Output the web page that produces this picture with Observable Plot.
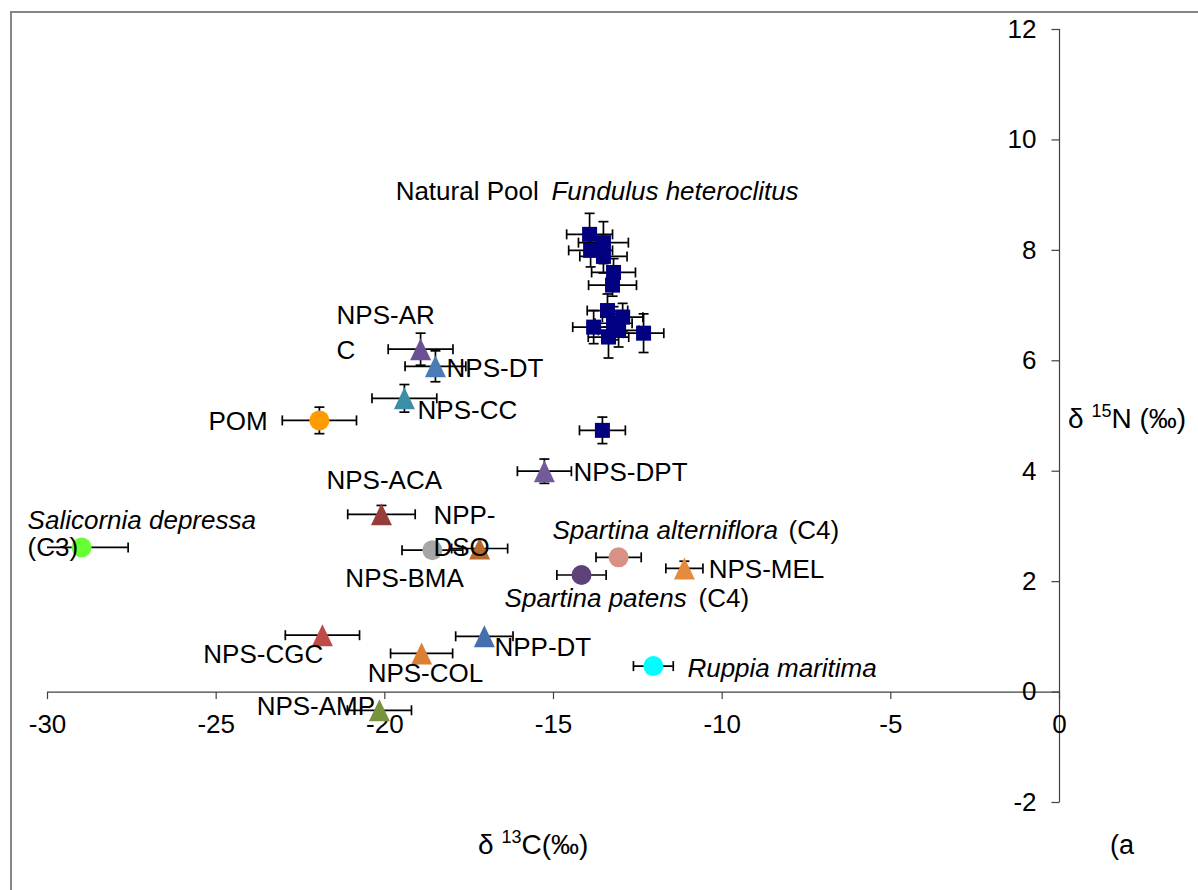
<!DOCTYPE html>
<html><head><meta charset="utf-8">
<script src="https://cdn.jsdelivr.net/npm/d3@7"></script>
<script src="https://cdn.jsdelivr.net/npm/@observablehq/plot@0.6"></script>
<style>
html,body{margin:0;padding:0;background:#fff;}
#wrap{position:relative;width:1198px;height:890px;overflow:hidden;background:#fff;}
#chart{position:absolute;left:0;top:0;}
#border{position:absolute;left:10px;top:11px;width:1400px;height:1000px;border-left:2px solid #868686;border-top:2px solid #868686;pointer-events:none;}
</style></head><body>
<div id="wrap"><div id="chart"></div><div id="border"></div></div>
<script>
// ---- Natural Pool Fundulus heteroclitus (mean ± SD) ----
const fishC13   = [-13.93,-13.52,-13.90,-13.52,-13.22,-13.25,-13.40,-12.95,-13.81,-13.22,-13.07,-13.37,-12.33,-13.55];
const fishN15   = [8.29, 8.14, 8.00, 7.89, 7.60, 7.37, 6.91, 6.79, 6.61, 6.68, 6.55, 6.43, 6.50, 4.74];
const fishC13sd = [0.68, 0.74, 0.65, 0.70, 0.65, 0.71, 0.60, 0.60, 0.62, 0.55, 0.60, 0.60, 0.60, 0.68];
const fishN15sd = [0.38, 0.38, 0.30, 0.30, 0.25, 0.20, 0.30, 0.25, 0.30, 0.30, 0.30, 0.38, 0.35, 0.24];

// ---- Food sources ----
const srcName  = ["NPS-ARC","NPS-DT","NPS-CC","POM","NPS-ACA","NPS-DPT","Salicornia depressa","NPS-BMA","NPP-DSO","Spartina alterniflora","Spartina patens","NPS-MEL","NPP-DT","Ruppia maritima","NPS-CGC","NPS-COL","NPS-AMP"];
const srcC13   = [-18.94,-18.50,-19.42,-21.94,-20.10,-15.27,-28.99,-18.59,-17.19,-13.07,-14.17,-11.12,-17.05,-12.04,-21.85,-18.91,-20.16];
const srcN15   = [6.21, 5.90, 5.32, 4.92, 3.22, 4.00, 2.62, 2.57, 2.60, 2.44, 2.12, 2.24, 1.01, 0.47, 1.03, 0.70, -0.33];
const srcC13sd = [0.96, 0.90, 0.96, 1.10, 1.00, 0.80, 1.38, 0.90, 0.83, 0.67, 0.73, 0.55, 0.85, 0.59, 1.10, 0.92, 0.95];
const srcN15sd = [0.29, 0.28, 0.25, 0.24, 0.16, 0.22, 0, 0, 0, 0, 0, 0.13, 0, 0, 0, 0, 0];
const srcShape = ["triangle","triangle","triangle","circle","triangle","triangle","circle","circle","triangle","circle","circle","triangle","triangle","circle","triangle","triangle","triangle"];
const srcColor = ["#6b5192","#4a7bb7","#3a8fa6","#ff9a00","#983c3a","#735a9b","#66ff33","#a6a6a6","#b86a2c","#d99184","#5c4278","#e58b3e","#4470ad","#00ffff","#bf4b48","#dd7f33","#77933c"];

// ---- Labels ----
const labelText   = ["Natural Pool","Fundulus heteroclitus","NPS-AR","C","NPS-DT","POM","NPS-CC","NPS-ACA","NPS-DPT","Salicornia depressa","(C3)","NPP-","DSO","NPS-BMA","Spartina alterniflora","(C4)","NPS-MEL","Spartina patens","(C4)","NPP-DT","Ruppia maritima","NPS-CGC","NPS-COL","NPS-AMP"];
const labelX      = [-19.68,-15.06,-21.43,-21.43,-18.17,-25.23,-19.03,-21.73,-14.41,-30.59,-30.59,-18.56,-18.56,-21.17,-15.03,-8.03,-10.40,-16.45,-10.70,-16.75,-11.03,-25.38,-20.51,-23.80];
const labelY      = [9.07, 9.07, 6.81, 6.19, 5.86, 4.90, 5.09, 3.82, 3.98, 3.11, 2.61, 3.19, 2.61, 2.06, 2.93, 2.93, 2.21, 1.70, 1.70, 0.81, 0.43, 0.67, 0.34, -0.27];
const labelItalic = [false,true,false,false,false,false,false,false,false,true,false,false,false,false,true,false,false,true,false,false,true,false,false,false];

// ---- Axes ----
const xTicks = [-30,-25,-20,-15,-10,-5,0];
const yTicks = [-2,0,2,4,6,8,10,12];

const fish = fishC13.map((x,i)=>({x, y:fishN15[i], xe:fishC13sd[i], ye:fishN15sd[i]}));
const src = srcName.map((n,i)=>({name:n, x:srcC13[i], y:srcN15[i], xe:srcC13sd[i], ye:srcN15sd[i], shape:srcShape[i], color:srcColor[i]}));
const all = fish.concat(src);
const labels = labelText.map((t,i)=>({text:t, x:labelX[i], y:labelY[i], italic:labelItalic[i]}));

// custom marker shapes (pixel sizes)
const triSym  = {draw(c){ c.moveTo(0,-11); c.lineTo(10.5,11); c.lineTo(-10.5,11); c.closePath(); }};
const sqSym   = {draw(c){ c.rect(-7.5,-7.5,15,15); }};
const circSym = {draw(c){ c.moveTo(10,0); c.arc(0,0,10,0,2*Math.PI); }};
const vCap    = {draw(c){ c.moveTo(0,-5); c.lineTo(0,5); }};
const hCap    = {draw(c){ c.moveTo(-5,0); c.lineTo(5,0); }};
const xTickSym= {draw(c){ c.moveTo(0,0); c.lineTo(0,7); }};
const yTickSym= {draw(c){ c.moveTo(0,0); c.lineTo(-8,0); }};

const axisColor = "#404040";
const ebW = 1.7;
const withY = all.filter(d=>d.ye>0);

const plot = Plot.plot({
  width: 1198, height: 890,
  marginLeft: 47, marginRight: 139, marginTop: 29, marginBottom: 88,
  x: {domain: [-30, 0], axis: null},
  y: {domain: [-2, 12], axis: null},
  color: {type: "identity"},
  style: {fontFamily: "'Liberation Sans', Arial, sans-serif", background: "transparent", overflow: "visible"},
  marks: [
    Plot.ruleY([0], {stroke: axisColor, strokeWidth: 1.2}),
    Plot.ruleX([0], {stroke: axisColor, strokeWidth: 1.2}),
    Plot.dot(xTicks, {x: d=>d, y: 0, symbol: xTickSym, stroke: axisColor, fill: "none", strokeWidth: 1.2}),
    Plot.dot(yTicks, {x: 0, y: d=>d, symbol: yTickSym, stroke: axisColor, fill: "none", strokeWidth: 1.2}),
    Plot.text(xTicks, {x: d=>d, y: 0, dy: 33, text: d=>String(d), fontSize: 26, fill: "#000"}),
    Plot.text(yTicks, {x: 0, y: d=>d, dx: -23, textAnchor: "end", text: d=>String(d), fontSize: 26, fill: "#000"}),
    // error bars
    Plot.ruleY(all, {y: "y", x1: d=>d.x-d.xe, x2: d=>d.x+d.xe, stroke: "#000", strokeWidth: ebW, clip: true}),
    Plot.dot(all, {x: d=>d.x-d.xe, y: "y", symbol: vCap, stroke: "#000", fill: "none", strokeWidth: ebW, clip: true}),
    Plot.dot(all, {x: d=>d.x+d.xe, y: "y", symbol: vCap, stroke: "#000", fill: "none", strokeWidth: ebW, clip: true}),
    Plot.ruleX(withY, {x: "x", y1: d=>d.y-d.ye, y2: d=>d.y+d.ye, stroke: "#000", strokeWidth: ebW}),
    Plot.dot(withY, {x: "x", y: d=>d.y-d.ye, symbol: hCap, stroke: "#000", fill: "none", strokeWidth: ebW}),
    Plot.dot(withY, {x: "x", y: d=>d.y+d.ye, symbol: hCap, stroke: "#000", fill: "none", strokeWidth: ebW}),
    // markers
    Plot.dot(fish, {x: "x", y: "y", symbol: sqSym, fill: "#000080", stroke: "none"}),
    Plot.dot(src.filter(d=>d.shape==="circle"), {x: "x", y: "y", symbol: circSym, fill: "color", stroke: "none"}),
    Plot.dot(src.filter(d=>d.shape==="triangle"), {x: "x", y: "y", symbol: triSym, fill: "color", stroke: "none"}),
    // labels
    Plot.text(labels.filter(d=>!d.italic), {x: "x", y: "y", text: "text", textAnchor: "start", fontSize: 26, fill: "#000"}),
    Plot.text(labels.filter(d=>d.italic), {x: "x", y: "y", text: "text", textAnchor: "start", fontSize: 26, fontStyle: "italic", fill: "#000"})
  ]
});
document.getElementById("chart").appendChild(plot);

// axis titles with superscripts
const svg = d3.select(plot);
const font = "'Liberation Sans', Arial, sans-serif";
function title(x, y, parts) {
  const t = svg.append("text").attr("x", x).attr("y", y).attr("font-size", 28)
    .attr("font-family", font).attr("fill", "#000").attr("text-anchor", "start")
    .attr("dominant-baseline", "middle");
  parts.forEach(p => {
    const s = t.append("tspan").text(p.t);
    if (p.sup) s.attr("font-size", 18).attr("dy", -9);
    if (p.down) s.attr("dy", 9);
  });
}
title(478, 847, [{t: "δ "}, {t: "13", sup: true}, {t: "C(‰)", down: true}]);
title(1068, 421, [{t: "δ "}, {t: "15", sup: true}, {t: "N (‰)", down: true}]);
svg.append("text").attr("x", 1110).attr("y", 847).attr("font-size", 27).attr("font-family", font)
  .attr("text-anchor", "start").attr("dominant-baseline", "middle").attr("fill", "#000").text("(a");
</script>
</body></html>
